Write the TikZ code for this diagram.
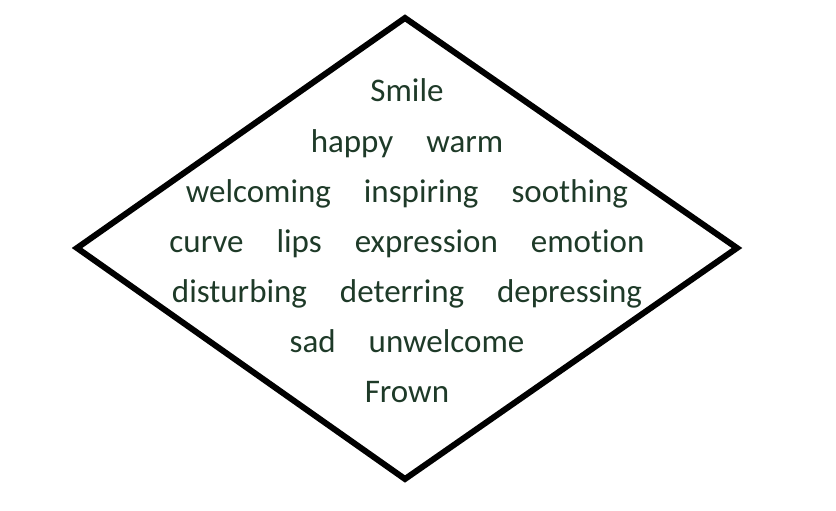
\documentclass[tikz,border=0pt]{standalone}
\usepackage{fontspec}
\setmainfont[Ligatures={NoCommon}]{Carlito}
\definecolor{txt}{RGB}{30,58,40}
\begin{document}
\begin{tikzpicture}[x=1pt,y=-1pt,
  word/.style={anchor=base,inner sep=0pt,text=txt,font=\fontsize{33}{36}\selectfont},
  edge/.style={draw=black,line width=6pt,line join=miter}]
\useasboundingbox (0,0) rectangle (836,511);
\coordinate (T) at (405,18);
\coordinate (R) at (737,248);
\coordinate (B) at (405,479);
\coordinate (L) at (77,248);
\draw[edge] (T) -- (R) -- (B) -- (L) -- cycle;
\newcommand{\gap}{\hspace*{33pt}}
\node[word] (l1) at (407,102) {Smile};
\node[word] (l2) at (407,152) {happy\gap warm};
\node[word] (l3) at (407,202) {welcoming\gap inspiring\gap soothing};
\node[word] (l4) at (407,252) {curve\gap lips\gap expression\gap emotion};
\node[word] (l5) at (407,302) {disturbing\gap deterring\gap depressing};
\node[word] (l6) at (407,352) {sad\gap unwelcome};
\node[word] (l7) at (407,402) {Frown};
\end{tikzpicture}
\end{document}
